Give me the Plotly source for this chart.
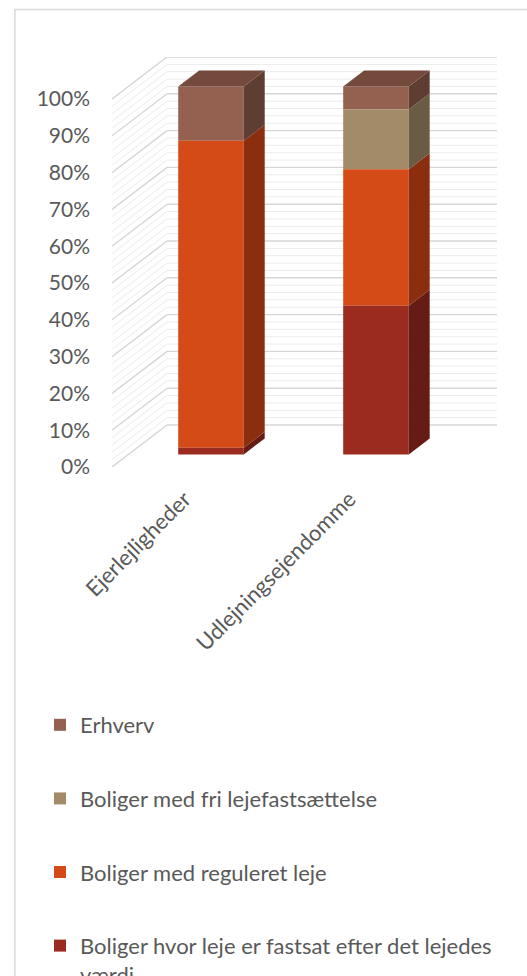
import plotly.graph_objects as go

# ---------------- data ----------------
categories = ["Ejerlejligheder", "Udlejningsejendomme"]
series_names = [
    "Boliger hvor leje er fastsat efter det lejedes værdi",
    "Boliger med reguleret leje",
    "Boliger med fri lejefastsættelse",
    "Erhverv",
]
legend_labels = [
    "Boliger hvor leje er fastsat efter det lejedes<br>værdi",
    "Boliger med reguleret leje",
    "Boliger med fri lejefastsættelse",
    "Erhverv",
]
fastsat_vaerdi = [1.8, 40.4]
reguleret_leje = [83.4, 37.1]
fri_leje = [0.0, 16.2]
erhverv = [14.8, 6.3]
series_values = [fastsat_vaerdi, reguleret_leje, fri_leje, erhverv]

y_ticks = [0, 10, 20, 30, 40, 50, 60, 70, 80, 90, 100]
y_tick_labels = ["0%", "10%", "20%", "30%", "40%", "50%", "60%", "70%", "80%", "90%", "100%"]

# ---------------- style ----------------
front_colors = ["#9B2B1F", "#D44B18", "#A38B69", "#946150"]
side_colors = ["#661C14", "#8A2E0F", "#6A5B45", "#5E3D33"]
top_colors = ["#7A231A", "#A93A12", "#85714F", "#744A3D"]
text_color = "#595959"
FONT = "Lato"

W, H = 527, 976
PX_X = 164.8          # px per category unit
PX_Y = 3.68           # px per percent
DEPTH_X_PX, DEPTH_Y_PX = 55.0, 42.0
DXu = DEPTH_X_PX / PX_X
DYu = DEPTH_Y_PX / PX_Y
BAR_FRONT = 0.30      # depth position of bar front face
BAR_DEPTH = 0.38      # bar depth as share of the full depth
BAR_W = 65.5 / PX_X
LABEL_SHIFT = 0.06    # category label anchor shift (front-floor edge)

plot_left = 112.0
plot_bottom = 467.5
x_range = [-0.5, 1.5 + DXu]
y_range = [0, 100 + DYu]
plot_w = (x_range[1] - x_range[0]) * PX_X
plot_h = (y_range[1] - y_range[0]) * PX_Y
m_l = plot_left
m_r = W - plot_left - plot_w
m_b = H - plot_bottom
m_t = plot_bottom - plot_h

fig = go.Figure()

n = len(categories)
n_s = len(series_values)

# stacked bottoms of each segment
cum = [0.0] * n
bottoms = []
for vals in series_values:
    bottoms.append(list(cum))
    cum = [c + v for c, v in zip(cum, vals)]

# front faces (real bars), added top series first so the legend lists Erhverv first
for s in reversed(range(n_s)):
    vals = series_values[s]
    fig.add_trace(go.Bar(
        x=[i + BAR_FRONT * DXu for i in range(n)],
        y=vals,
        base=[b + BAR_FRONT * DYu for b in bottoms[s]],
        width=BAR_W,
        name=legend_labels[s],
        legendgroup=series_names[s],
        marker=dict(color=front_colors[s], line=dict(width=0)),
        hoverinfo="skip",
    ))

# side faces
ddx = BAR_DEPTH * DXu
ddy = BAR_DEPTH * DYu
for s, vals in enumerate(series_values):
    xs, ys = [], []
    for i in range(n):
        if vals[i] <= 0:
            continue
        xr = i + BAR_FRONT * DXu + BAR_W / 2
        b = bottoms[s][i] + BAR_FRONT * DYu
        t = b + vals[i]
        xs += [xr, xr, xr + ddx, xr + ddx, xr, None]
        ys += [b, t, t + ddy, b + ddy, b, None]
    fig.add_trace(go.Scatter(
        x=xs, y=ys, mode="lines", fill="toself",
        fillcolor=side_colors[s], line=dict(width=0, color=side_colors[s]),
        showlegend=False, hoverinfo="skip",
    ))

# top faces (top-most non-zero segment of each bar)
for i in range(n):
    top_s = max(s for s in range(n_s) if series_values[s][i] > 0)
    xl = i + BAR_FRONT * DXu - BAR_W / 2
    xr = xl + BAR_W
    t = cum[i] + BAR_FRONT * DYu
    fig.add_trace(go.Scatter(
        x=[xl, xr, xr + ddx, xl + ddx, xl],
        y=[t, t, t + ddy, t + ddy, t],
        mode="lines", fill="toself",
        fillcolor=top_colors[top_s], line=dict(width=0, color=top_colors[top_s]),
        showlegend=False, hoverinfo="skip",
    ))

# walls: gridlines on back wall and side wall
minor_path, major_path = [], []
for p in range(0, 101, 2):
    seg = (f"M{x_range[0] + DXu},{p + DYu} L{1.5 + DXu},{p + DYu} "
           f"M{x_range[0]},{p} L{x_range[0] + DXu},{p + DYu} ")
    (major_path if p % 10 == 0 else minor_path).append(seg)
shapes = [
    dict(type="path", xref="x", yref="y", path="".join(minor_path),
         line=dict(color="#EBEBEB", width=1), layer="below"),
    dict(type="path", xref="x", yref="y", path="".join(major_path),
         line=dict(color="#D6D6D6", width=1.4), layer="below"),
]
# chart frame
fx0 = (15 - m_l) / plot_w
fx1 = (W + 5 - m_l) / plot_w
fy_top = (H - m_b - 10) / plot_h
fy_bot = -(m_b + 10) / plot_h
shapes.append(dict(type="rect", xref="paper", yref="paper",
                   x0=fx0, x1=fx1, y0=fy_bot, y1=fy_top,
                   line=dict(color="#D9D9D9", width=1.5), layer="below"))

fig.update_layout(
    width=W, height=H,
    margin=dict(l=m_l, r=m_r, t=m_t, b=m_b, autoexpand=False),
    paper_bgcolor="white", plot_bgcolor="white",
    barmode="overlay",
    shapes=shapes,
    font=dict(family=FONT, color=text_color, size=20),
    xaxis=dict(range=x_range, tickmode="array",
               tickvals=[i - LABEL_SHIFT for i in range(n)],
               ticktext=categories, tickangle=-45, showgrid=False,
               zeroline=False, showline=False, ticks="",
               tickfont=dict(family=FONT, size=22, color=text_color),
               ticklabelstandoff=14, fixedrange=True),
    yaxis=dict(range=y_range, tickmode="array", tickvals=y_ticks,
               ticktext=y_tick_labels, showgrid=False, zeroline=False,
               showline=False, ticks="", ticklabelstandoff=21,
               tickfont=dict(family=FONT, size=21, color=text_color),
               fixedrange=True),
    legend=dict(xref="container", yref="container",
                x=40 / W, y=1 - 704 / H, xanchor="left", yanchor="top",
                traceorder="grouped", tracegroupgap=42,
                valign="top",
                font=dict(family=FONT, size=22, color=text_color),
                bgcolor="rgba(0,0,0,0)"),
    showlegend=True,
)

fig.write_html("out.html")
